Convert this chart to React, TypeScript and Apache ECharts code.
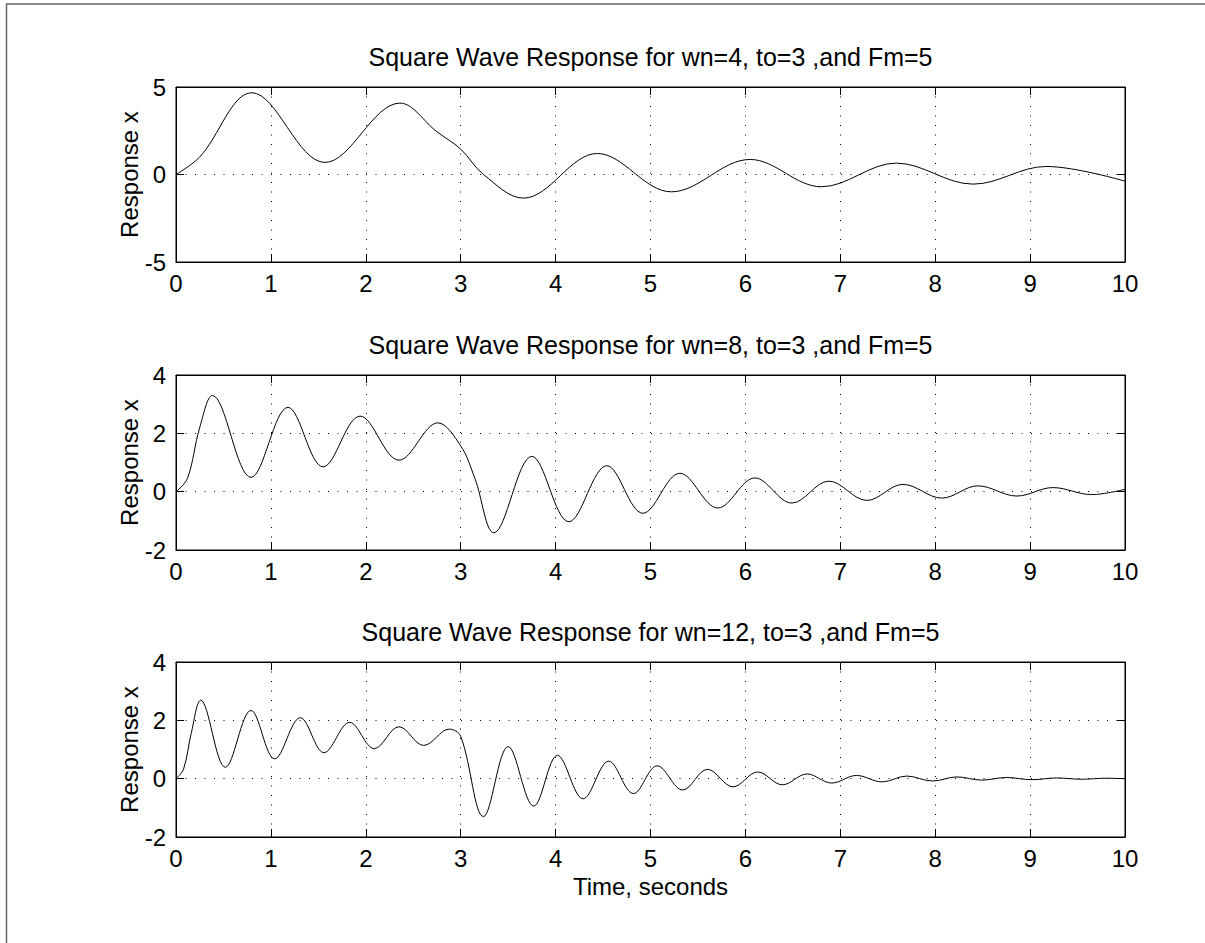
import React, { useEffect, useRef } from "react";
import * as echarts from "echarts";

// ---- Text ----
const titles = [
  "Square Wave Response for wn=4, to=3 ,and Fm=5",
  "Square Wave Response for wn=8, to=3 ,and Fm=5",
  "Square Wave Response for wn=12, to=3 ,and Fm=5",
];
const yLabel = "Response x";
const xLabel = "Time, seconds";

// ---- Axes ranges ----
const xMin = 0;
const xMax = 10;
const xStep = 1;
const yMins = [-5, -2, -2];
const yMaxs = [5, 4, 4];
const ySteps = [5, 2, 2];

// ---- Data (time, response): start, turning points, switch at t=3 ----
const t1 = [0, 0.25, 0.8, 1.57, 2.36, 2.75, 3.0, 3.24, 3.66, 4.44, 5.22, 6.05, 6.8, 7.59, 8.4, 9.17, 10];
const x1 = [0, 1.0, 4.67, 0.69, 4.08, 2.44, 1.45, 0.0, -1.35, 1.2, -0.99, 0.86, -0.7, 0.65, -0.55, 0.46, -0.38];

const t2 = [0, 0.12, 0.25, 0.383, 0.79, 1.18, 1.55, 1.94, 2.35, 2.76, 3.0, 3.15, 3.35, 3.75, 4.14, 4.54, 4.92, 5.31, 5.71, 6.1, 6.49, 6.88, 7.28, 7.66, 8.07, 8.45, 8.86, 9.24, 9.65, 10];
const x2 = [0, 0.45, 2.2, 3.3, 0.49, 2.89, 0.85, 2.59, 1.08, 2.36, 1.57, 0.45, -1.41, 1.21, -1.03, 0.89, -0.74, 0.63, -0.56, 0.47, -0.39, 0.36, -0.3, 0.25, -0.22, 0.2, -0.15, 0.14, -0.1, 0.08];

const t3 = [0, 0.08, 0.16, 0.26, 0.52, 0.79, 1.04, 1.31, 1.56, 1.83, 2.09, 2.35, 2.61, 2.88, 3.0, 3.24, 3.5, 3.77, 4.02, 4.29, 4.56, 4.82, 5.07, 5.34, 5.6, 5.87, 6.13, 6.39, 6.65, 6.91, 7.17, 7.44, 7.7, 7.97, 8.23, 8.49, 8.75, 9.02, 9.28, 9.54, 9.8, 10];
const x3 = [0, 0.33, 1.55, 2.69, 0.39, 2.34, 0.68, 2.09, 0.89, 1.93, 1.03, 1.78, 1.14, 1.7, 1.45, -1.3, 1.1, -0.94, 0.8, -0.69, 0.6, -0.51, 0.44, -0.39, 0.32, -0.28, 0.23, -0.21, 0.16, -0.15, 0.11, -0.11, 0.09, -0.08, 0.06, -0.05, 0.04, -0.035, 0.025, -0.02, 0.015, 0];

const times = [t1, t2, t3];
const values = [x1, x2, x3];
const smoothness = [0.36, 0.36, 0.36];

// ---- Layout ----
const FONT = '"Liberation Sans", Arial, Helvetica, sans-serif';
const FS = 24;
const TITLE_FS = 25;
const plotLeft = 176;
const plotWidth = 949;
const plotTops = [87, 375, 662];
const plotHeight = 175;

export default function App() {
  const ref = useRef<HTMLDivElement>(null);

  useEffect(() => {
    if (!ref.current) return;
    const chart = echarts.init(ref.current, undefined, { renderer: "svg" });

    const grids = plotTops.map((top) => ({
      left: plotLeft,
      top,
      width: plotWidth,
      height: plotHeight,
      show: true,
      borderColor: "#000",
      borderWidth: 1,
      backgroundColor: "#fff",
      containLabel: false,
    }));

    const dotted = { color: "#000", width: 1, type: [1, 8.5] as any };
    const xAxes: any[] = [];
    const yAxes: any[] = [];
    plotTops.forEach((_, i) => {
      xAxes.push({
        type: "value",
        gridIndex: i,
        min: xMin,
        max: xMax,
        interval: xStep,
        position: "bottom",
        axisLine: { show: true, onZero: false, lineStyle: { color: "#000", width: 1 } },
        axisTick: { show: true, inside: true, length: 8, lineStyle: { color: "#000", width: 1 } },
        axisLabel: { show: true, color: "#000", fontSize: FS, fontFamily: FONT, margin: 9 },
        splitLine: { show: true, lineStyle: dotted },
      });
      xAxes.push({
        type: "value",
        gridIndex: i,
        min: xMin,
        max: xMax,
        interval: xStep,
        position: "top",
        axisLine: { show: true, onZero: false, lineStyle: { color: "#000", width: 1 } },
        axisTick: { show: true, inside: true, length: 8, lineStyle: { color: "#000", width: 1 } },
        axisLabel: { show: false },
        splitLine: { show: false },
      });
      yAxes.push({
        type: "value",
        gridIndex: i,
        min: yMins[i],
        max: yMaxs[i],
        interval: ySteps[i],
        position: "left",
        axisLine: { show: true, onZero: false, lineStyle: { color: "#000", width: 1 } },
        axisTick: { show: true, inside: true, length: 8, lineStyle: { color: "#000", width: 1 } },
        axisLabel: { show: true, color: "#000", fontSize: FS, fontFamily: FONT, margin: 10 },
        splitLine: { show: true, lineStyle: dotted },
      });
      yAxes.push({
        type: "value",
        gridIndex: i,
        min: yMins[i],
        max: yMaxs[i],
        interval: ySteps[i],
        position: "right",
        axisLine: { show: true, onZero: false, lineStyle: { color: "#000", width: 1 } },
        axisTick: { show: true, inside: true, length: 8, lineStyle: { color: "#000", width: 1 } },
        axisLabel: { show: false },
        splitLine: { show: false },
      });
    });

    const series = times.map((ts, i) => ({
      type: "line",
      xAxisIndex: i * 2,
      yAxisIndex: i * 2,
      data: ts.map((t, j) => [t, values[i][j]]),
      showSymbol: false,
      smooth: smoothness[i],
      clip: true,
      lineStyle: { color: "#000", width: 1 },
      silent: true,
    }));

    const textStyle = (text: string, size: number) => ({
      text,
      fill: "#000",
      font: `${size}px ${FONT}`,
      align: "center",
      verticalAlign: "middle",
      textAlign: "center",
      textVerticalAlign: "middle",
    });

    const graphic: any[] = [
      {
        type: "rect",
        shape: { x: 6.5, y: 4, width: 1400, height: 1200 },
        style: { fill: "none", stroke: "#666", lineWidth: 1.5 },
        silent: true,
      },
    ];
    plotTops.forEach((top, i) => {
      graphic.push({
        type: "text",
        x: plotLeft + plotWidth / 2,
        y: top - 30,
        style: textStyle(titles[i], TITLE_FS),
      });
      graphic.push({
        type: "text",
        x: 129,
        y: top + plotHeight / 2,
        rotation: Math.PI / 2,
        style: textStyle(yLabel, FS),
      });
    });
    graphic.push({
      type: "text",
      x: plotLeft + plotWidth / 2,
      y: plotTops[2] + plotHeight + 49,
      style: textStyle(xLabel, FS),
    });

    chart.setOption({
      animation: false,
      backgroundColor: "#fff",
      grid: grids,
      xAxis: xAxes,
      yAxis: yAxes,
      series,
      graphic,
    });

    return () => chart.dispose();
  }, []);

  return (
    <div
      ref={ref}
      style={{ position: "fixed", left: 0, top: 0, width: 1205, height: 943, background: "#fff" }}
    />
  );
}
